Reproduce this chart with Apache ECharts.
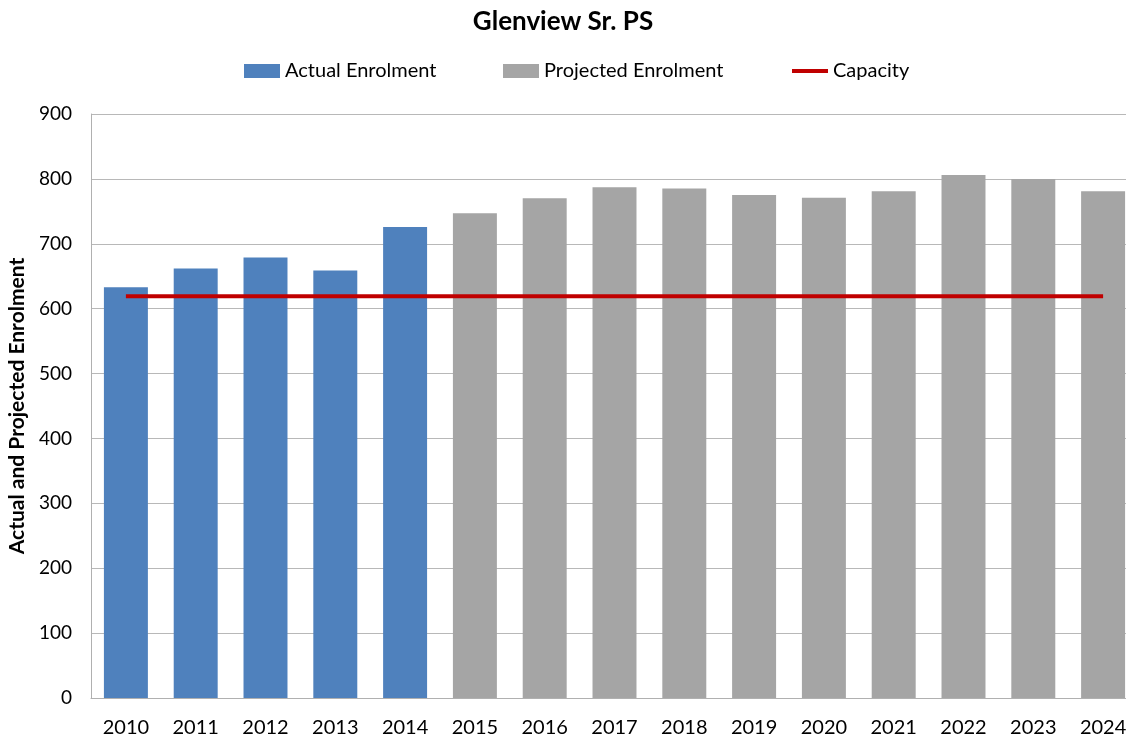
<!DOCTYPE html>
<html>
<head>
<meta charset="utf-8">
<script src="https://cdn.jsdelivr.net/npm/echarts@6/dist/echarts.min.js"></script>
<style>
  html, body { margin: 0; padding: 0; background: #fff; }
  #ch-main { width: 1126px; height: 738px; }
</style>
</head>
<body>
<div id="ch-main"></div>
<script>
let years = ['2010', '2011', '2012', '2013', '2014', '2015', '2016', '2017', '2018', '2019', '2020', '2021', '2022', '2023', '2024']
let actual = [633, 662, 679, 659, 726, null, null, null, null, null, null, null, null, null, null]
let projected = [null, null, null, null, null, 747, 770, 787, 785, 775, 771, 781, 806, 800, 781]
let capacity = [619, 619, 619, 619, 619, 619, 619, 619, 619, 619, 619, 619, 619, 619, 619]

let main = echarts.init(document.getElementById('ch-main'));
let font = 'Lato, "Open Sans", sans-serif'
let legendText = { fontFamily: font, fontSize: 20, color: '#000' }

let option = {
    animation: false,
    textStyle: { fontFamily: font },
    title: {
        text: 'Glenview Sr. PS',
        left: 'center',
        top: 4,
        textStyle: { fontFamily: font, fontSize: 26, fontWeight: 'bold', color: '#000' }
    },
    // one legend per item so each sits where the original puts it
    legend: [
        {
            left: 239, top: 56, itemWidth: 36, itemHeight: 14,
            textStyle: legendText,
            data: [{ name: 'Actual Enrolment', icon: 'rect' }]
        },
        {
            left: 498, top: 56, itemWidth: 36, itemHeight: 14,
            textStyle: legendText,
            data: [{ name: 'Projected Enrolment', icon: 'rect' }]
        },
        {
            left: 787, top: 56, itemWidth: 36, itemHeight: 4,
            textStyle: legendText,
            data: [{ name: 'Capacity', icon: 'rect' }]
        }
    ],
    grid: { left: 91, right: -12, top: 114, bottom: 40, outerBoundsMode: 'none', containLabel: false },
    xAxis: {
        type: 'category',
        data: years,
        axisLine: { lineStyle: { color: '#b0b0b0' } },
        axisTick: { show: false },
        axisLabel: { fontFamily: font, fontSize: 20, color: '#000', margin: 20 }
    },
    yAxis: {
        type: 'value',
        min: 0,
        max: 900,
        interval: 100,
        name: 'Actual and Projected Enrolment',
        nameLocation: 'middle',
        nameGap: 62,
        nameTextStyle: { fontFamily: font, fontSize: 21, fontWeight: 'bold', color: '#000' },
        axisLine: { show: true, lineStyle: { color: '#b0b0b0' } },
        axisTick: { show: false },
        splitLine: { lineStyle: { color: '#b8b8b8' } },
        axisLabel: { fontFamily: font, fontSize: 19, color: '#000', margin: 19 }
    },
    series: [
        {
            name: 'Actual Enrolment',
            type: 'bar',
            stack: 'enrol',
            data: actual,
            barWidth: '63%',
            itemStyle: { color: '#4f81bd' }
        },
        {
            name: 'Projected Enrolment',
            type: 'bar',
            stack: 'enrol',
            data: projected,
            barWidth: '63%',
            itemStyle: { color: '#a5a5a5' }
        },
        {
            name: 'Capacity',
            type: 'line',
            data: capacity,
            symbol: 'none',
            lineStyle: { color: '#c00000', width: 4 },
            itemStyle: { color: '#c00000' }
        }
    ]
};

main.setOption(option);
</script>
</body>
</html>
